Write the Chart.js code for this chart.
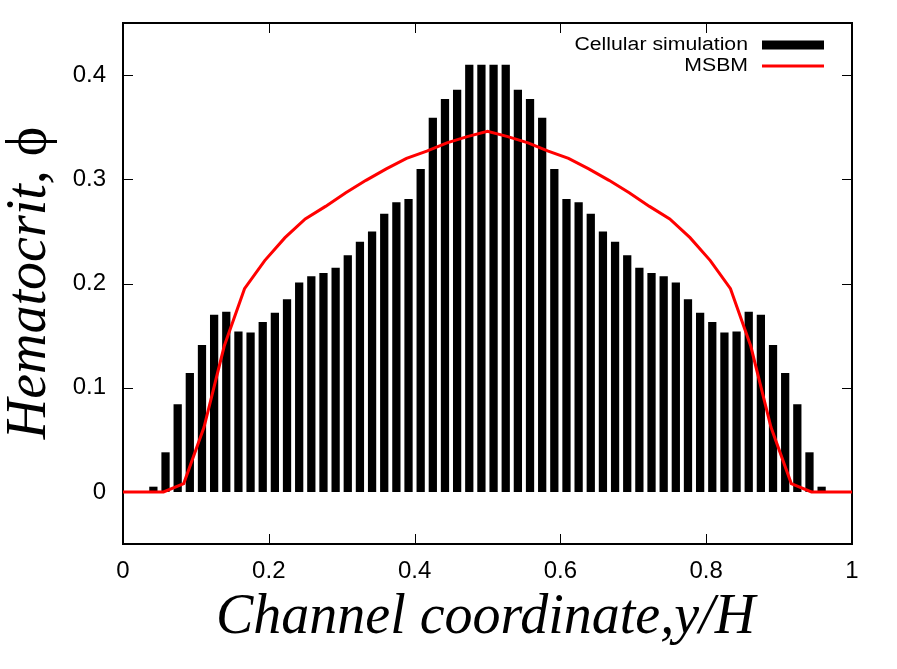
<!DOCTYPE html>
<html>
<head>
<meta charset="utf-8">
<script src="https://cdn.jsdelivr.net/npm/chart.js@4.4.1/dist/chart.umd.min.js"></script>
<style>
  html, body { margin: 0; padding: 0; background: #fff; }
  #wrap { width: 897px; height: 669px; }
</style>
</head>
<body>
<div id="wrap"><canvas id="hct-chart"></canvas></div>
<script>
// Hematocrit profile across the channel: 60 bins from the cellular simulation,
// and the MSBM curve sampled at 37 points.
const xTicks = [0, 0.2, 0.4, 0.6, 0.8, 1];
const yTicks = [0, 0.1, 0.2, 0.3, 0.4];

const binCount = 60;
const phiCell = [
    0, 0, 0.005, 0.038, 0.084, 0.114, 0.141, 0.170, 0.173, 0.154,
    0.153, 0.163, 0.172, 0.185, 0.201, 0.207, 0.210, 0.215, 0.227, 0.240,
    0.250, 0.267, 0.278, 0.281, 0.310, 0.359, 0.377, 0.386, 0.410, 0.410,
    0.410, 0.410, 0.386, 0.377, 0.359, 0.310, 0.281, 0.278, 0.267, 0.250,
    0.240, 0.227, 0.215, 0.210, 0.207, 0.201, 0.185, 0.172, 0.163, 0.153,
    0.154, 0.173, 0.170, 0.141, 0.114, 0.084, 0.038, 0.005, 0, 0
];

const msbmX = [
    0, 0.0278, 0.0556, 0.0833, 0.1111, 0.1389, 0.1667, 0.1944, 0.2222, 0.25,
    0.2778, 0.3056, 0.3333, 0.3611, 0.3889, 0.4167, 0.4444, 0.4722, 0.5,
    0.5278, 0.5556, 0.5833, 0.6111, 0.6389, 0.6667, 0.6944, 0.7222, 0.75,
    0.7778, 0.8056, 0.8333, 0.8611, 0.8889, 0.9167, 0.9444, 0.9722, 1
];
const msbmPhi = [
    0, 0, 0, 0.008, 0.062, 0.140, 0.195, 0.222, 0.244, 0.262,
    0.274, 0.287, 0.299, 0.310, 0.320, 0.327, 0.335, 0.341, 0.346,
    0.341, 0.335, 0.327, 0.320, 0.310, 0.299, 0.287, 0.274, 0.262,
    0.244, 0.222, 0.195, 0.140, 0.062, 0.008, 0, 0, 0
];

const sansFont = "'Liberation Sans', Arial, sans-serif";
const serifFont = "'Liberation Serif', 'Times New Roman', serif";

// gnuplot look: frame and inward ticks under the data, legend and titles on top
const gnuplotDecor = {
    id: 'gnuplotDecor',
    beforeDatasetsDraw(chart) {
        const ctx = chart.ctx;
        const area = chart.chartArea;
        const xs = chart.scales.x;
        const ys = chart.scales.y;
        const tickLen = 10;

        ctx.save();
        ctx.strokeStyle = '#000';
        ctx.lineWidth = 1;
        ctx.beginPath();
        xs.ticks.forEach(t => {
            const px = Math.round(xs.getPixelForValue(t.value)) + 0.5;
            ctx.moveTo(px, area.bottom);
            ctx.lineTo(px, area.bottom - tickLen);
            ctx.moveTo(px, area.top);
            ctx.lineTo(px, area.top + tickLen);
        });
        ys.ticks.forEach(t => {
            const py = Math.round(ys.getPixelForValue(t.value)) + 0.5;
            ctx.moveTo(area.left, py);
            ctx.lineTo(area.left + tickLen, py);
            ctx.moveTo(area.right, py);
            ctx.lineTo(area.right - tickLen, py);
        });
        ctx.stroke();

        ctx.lineWidth = 2;
        ctx.strokeRect(area.left, area.top, area.right - area.left, area.bottom - area.top);
        ctx.restore();
    },
    afterDraw(chart) {
        const ctx = chart.ctx;
        const area = chart.chartArea;
        ctx.save();

        // legend, text right-aligned with the sample to its right
        const items = chart.data.datasets;
        const textRight = 748;
        const sampleX = 762;
        const sampleW = 62;
        const rows = [45, 66];
        ctx.font = '18px ' + sansFont;
        ctx.textBaseline = 'middle';
        ctx.textAlign = 'right';
        items.forEach((ds, i) => {
            const y = rows[i];
            ctx.save();
            ctx.translate(textRight, y);
            ctx.scale(1.18, 1);
            ctx.fillStyle = '#000';
            ctx.fillText(ds.label, 0, 0);
            ctx.restore();
            if (ds.type === 'bar') {
                ctx.fillStyle = ds.backgroundColor;
                ctx.fillRect(sampleX, y - 4.5, sampleW, 9);
            } else {
                ctx.strokeStyle = ds.borderColor;
                ctx.lineWidth = ds.borderWidth;
                ctx.beginPath();
                ctx.moveTo(sampleX, y);
                ctx.lineTo(sampleX + sampleW, y);
                ctx.stroke();
            }
        });

        // axis titles
        ctx.fillStyle = '#000';
        ctx.textBaseline = 'alphabetic';
        ctx.textAlign = 'center';
        ctx.font = 'italic 56px ' + serifFont;
        ctx.fillText('Channel coordinate,y/H', (area.left + area.right) / 2 - 2, 633);

        const part1 = 'Hematocrit, ';
        const part2 = '\u03D5';
        ctx.font = 'italic 56px ' + serifFont;
        const w1 = ctx.measureText(part1).width;
        ctx.font = '56px ' + serifFont;
        const w2 = ctx.measureText(part2).width;
        ctx.save();
        ctx.translate(45, 283);
        ctx.rotate(-Math.PI / 2);
        ctx.textAlign = 'left';
        ctx.font = 'italic 56px ' + serifFont;
        ctx.fillText(part1, -(w1 + w2) / 2, 0);
        ctx.font = '56px ' + serifFont;
        ctx.fillText(part2, -(w1 + w2) / 2 + w1, 0);
        ctx.restore();

        ctx.restore();
    }
};

const cellPoints = phiCell.map((v, i) => ({ x: (i + 0.5) / binCount, y: v }));
const msbmPoints = msbmPhi.map((v, i) => ({ x: msbmX[i], y: v }));

new Chart(document.getElementById('hct-chart'), {
    type: 'bar',
    data: {
        datasets: [{
            type: 'bar',
            label: 'Cellular simulation',
            data: cellPoints,
            backgroundColor: '#000',
            borderWidth: 0,
            barPercentage: 0.68,
            categoryPercentage: 1,
            order: 2
        }, {
            type: 'line',
            label: 'MSBM',
            data: msbmPoints,
            borderColor: '#ff0000',
            borderWidth: 3,
            pointRadius: 0,
            tension: 0,
            fill: false,
            order: 1
        }]
    },
    options: {
        responsive: true,
        maintainAspectRatio: false,
        animation: false,
        events: [],
        layout: {
            padding: { top: 23, right: 45, left: 0, bottom: 0 }
        },
        plugins: {
            legend: { display: false },
            tooltip: { enabled: false }
        },
        scales: {
            x: {
                type: 'linear',
                min: 0,
                max: 1,
                offset: false,
                grid: { display: false, drawTicks: false },
                border: { display: false },
                afterBuildTicks: scale => { scale.ticks = xTicks.map(v => ({ value: v })); },
                afterFit: scale => {
                    scale.height = 125;
                    scale.paddingLeft = 0;
                    scale.paddingRight = 0;
                },
                ticks: {
                    color: '#000',
                    padding: 13,
                    maxRotation: 0,
                    font: { family: sansFont, size: 24 },
                    callback: v => String(v)
                }
            },
            y: {
                type: 'linear',
                min: -0.05,
                max: 0.45,
                grid: { display: false, drawTicks: false },
                border: { display: false },
                afterBuildTicks: scale => { scale.ticks = yTicks.map(v => ({ value: v })); },
                afterFit: scale => {
                    scale.width = 123;
                    scale.paddingTop = 0;
                    scale.paddingBottom = 0;
                },
                ticks: {
                    color: '#000',
                    padding: 17,
                    font: { family: sansFont, size: 24 },
                    callback: v => String(v)
                }
            }
        }
    },
    plugins: [gnuplotDecor]
});
</script>
</body>
</html>
